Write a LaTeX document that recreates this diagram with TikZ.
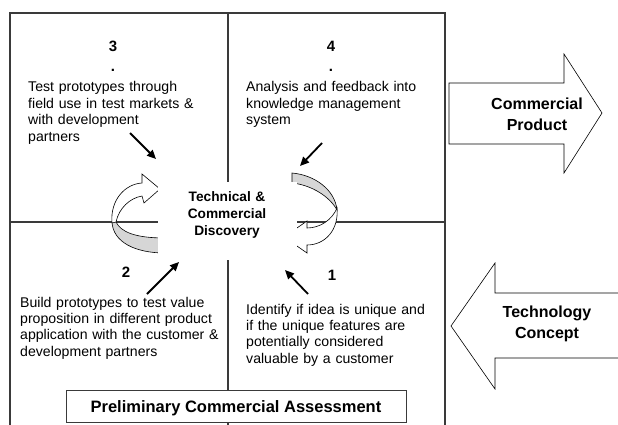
\documentclass[tikz,border=0pt]{standalone}
\usepackage{fontspec}
\setmainfont{Liberation Sans}
\usetikzlibrary{arrows.meta}
\definecolor{framegray}{HTML}{3A3A3A}
\definecolor{bandgray}{HTML}{D6D6D6}
\begin{document}
\begin{tikzpicture}[x=1pt,y=-1pt,
  frame/.style={draw=framegray, line width=1.1pt},
  body/.style={anchor=base west, inner sep=0pt, align=left, text width=230pt, font=\fontsize{14.1}{16.4}\selectfont},
  numlabel/.style={anchor=base, inner sep=0pt, align=center, text width=30pt, font=\bfseries\fontsize{15}{20}\selectfont},
  ptr/.style={line width=1.8pt, -{Triangle[length=9pt,width=8pt]}},
  band/.style={fill=bandgray, draw=black, line width=0.6pt},
  ribbon/.style={fill=white, draw=black, line width=0.6pt},
  block/.style={draw=black, line width=0.6pt, fill=white},
  biglabel/.style={font=\bfseries\fontsize{16}{21}\selectfont, align=center, text width=120pt, anchor=base, inner sep=0pt},
  centerlabel/.style={font=\bfseries\fontsize{13.7}{16.7}\selectfont, align=center, text width=130pt, anchor=base, inner sep=0pt}
]
\useasboundingbox (0,0) rectangle (618,425);
\fill[white] (0,0) rectangle (618,425);

% quadrant frame
\draw[frame] (10,425) -- (10,13) -- (445,13) -- (445,425);
\draw[frame] (228,13) -- (228,425);
\draw[frame] (10,222) -- (445,222);

% left curved 3D arrow
\filldraw[band] (112,222) .. controls (113,242) and (135,253) .. (165,253) -- (165,238) .. controls (135,238) and (121,232) .. (116,222) -- cycle;
\filldraw[ribbon] (112,223) .. controls (110,200) and (125,184) .. (142,183) -- (142,174) -- (160,189) -- (144,203) -- (142,196) .. controls (130,198) and (119,208) .. (116,222) -- cycle;

% right curved 3D arrow
\filldraw[band] (292,173) .. controls (315,175) and (335,190) .. (337,210) .. controls (330,197) and (312,185) .. (292,183) -- cycle;
\filldraw[ribbon] (337,208) .. controls (339,230) and (325,245) .. (307,245) -- (307,253) -- (284,237) -- (307,221) -- (307,228) .. controls (320,228) and (332,220) .. (337,208) -- cycle;

% centre label with white ground
\node (disccover) [fill=white, inner sep=0pt, minimum width=139pt, minimum height=78pt] at (227.5,221) {};
\node (disc) [centerlabel] at (227,201.7) {Technical \&\\Commercial\\Discovery};

% quadrant numbers
\node (n3) [numlabel] at (113,52) {3\\.};
\node (n4) [numlabel] at (331,52) {4\\.};
\node (n2) [numlabel] at (126,277) {2};
\node (n1) [numlabel] at (332,280) {1};

% quadrant texts
\node (t3) [body] at (28,92) {Test prototypes through\\field use in test markets \&\\with development\\partners};
\node (t4) [body] at (246,92) {Analysis and feedback into\\knowledge management\\system};
\node (t2) [body] at (20,307) {Build prototypes to test value\\proposition in different product\\application with the customer \&\\development partners};
\node (t1) [body] at (246,314) {Identify if idea is unique and\\if the unique features are\\potentially considered\\valuable by a customer};

% pointers toward the centre
\coordinate (a3s) at (130,133); \coordinate (a3e) at (156,159);
\coordinate (a4s) at (322,143); \coordinate (a4e) at (300,166);
\coordinate (a2s) at (147,294); \coordinate (a2e) at (179,262);
\coordinate (a1s) at (308,294); \coordinate (a1e) at (285,270);
\draw[ptr] (a3s) -- (a3e);
\draw[ptr] (a4s) -- (a4e);
\draw[ptr] (a2s) -- (a2e);
\draw[ptr] (a1s) -- (a1e);

% preliminary assessment box
\node (prelim) [draw=framegray, line width=1pt, fill=white, minimum width=340pt, minimum height=32pt, inner sep=0pt] at (236,406) {};
\node (prelimtext) [anchor=base, inner sep=0pt, font=\bfseries\fontsize{16.5}{20}\selectfont] at (236,412.7) {Preliminary Commercial Assessment};

% block arrows
\draw[block] (449,83) -- (564,83) -- (564,54) -- (602,113) -- (564,173) -- (564,144) -- (449,144) -- cycle;
\node (prod) [biglabel] at (537,110) {Commercial\\Product};
\draw[block] (619,293) -- (495,293) -- (495,263) -- (451,326) -- (495,389) -- (495,358) -- (619,358);
\node (tech) [biglabel] at (547,317) {Technology\\Concept};
\end{tikzpicture}
\end{document}
